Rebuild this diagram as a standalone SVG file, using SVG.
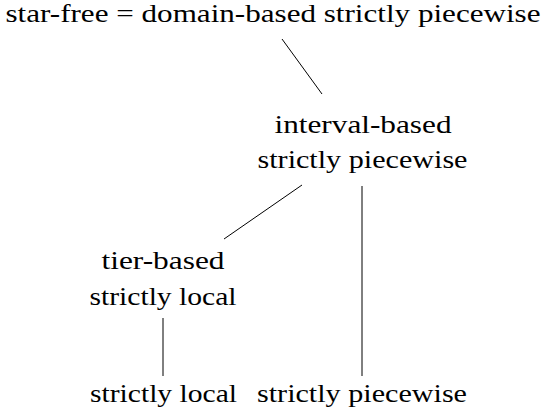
<svg xmlns="http://www.w3.org/2000/svg" width="547" height="417" viewBox="0 0 547 417">
<style>
text{font-family:"Liberation Serif","DejaVu Serif",serif;font-size:26px;fill:#000;text-anchor:middle}
.edge{stroke:#000;stroke-width:1;fill:none}
</style>
<rect width="547" height="417" fill="#fff"/>
<g id="connectors">
<line class="edge" x1="282" y1="39" x2="322" y2="94"/>
<line class="edge" x1="302" y1="185" x2="224" y2="239"/>
<line class="edge" x1="362" y1="186" x2="362" y2="376"/>
<line class="edge" x1="163" y1="318" x2="163" y2="376"/>
</g>
<g id="n-starfree"><text x="273" y="22" textLength="535" lengthAdjust="spacingAndGlyphs">star-free = domain-based strictly piecewise</text></g>
<g id="n-interval"><text x="363" y="133" textLength="177" lengthAdjust="spacingAndGlyphs">interval-based</text><text x="362.5" y="168" textLength="210" lengthAdjust="spacingAndGlyphs">strictly piecewise</text></g>
<g id="n-tier"><text x="163" y="269" textLength="123" lengthAdjust="spacingAndGlyphs">tier-based</text><text x="163" y="305" textLength="147" lengthAdjust="spacingAndGlyphs">strictly local</text></g>
<g id="n-sl"><text x="163.5" y="402" textLength="147" lengthAdjust="spacingAndGlyphs">strictly local</text></g>
<g id="n-sp"><text x="362" y="402" textLength="210" lengthAdjust="spacingAndGlyphs">strictly piecewise</text></g>
</svg>
